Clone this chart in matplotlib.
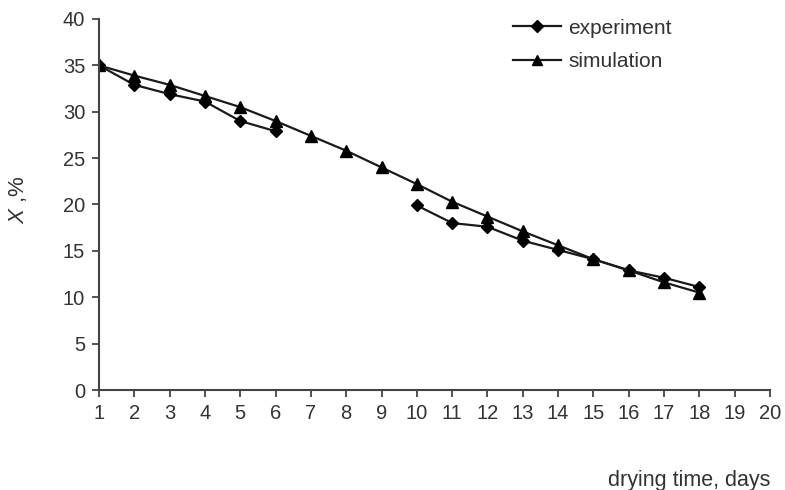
import numpy as np
import matplotlib
matplotlib.use("Agg")
import matplotlib.pyplot as plt

plt.rcParams['font.family'] = ['Liberation Sans', 'DejaVu Sans']
plt.rcParams['mathtext.fontset'] = 'custom'
plt.rcParams['mathtext.it'] = 'Liberation Sans:italic'
plt.rcParams['mathtext.rm'] = 'Liberation Sans'

days = list(range(1, 19))
experiment = [35.0, 32.9, 31.9, 31.1, 29.0, 27.9, np.nan, np.nan, np.nan,
              19.9, 18.0, 17.6, 16.1, 15.1, 14.1, 12.9, 12.1, 11.1]
simulation = [35.0, 33.9, 32.9, 31.7, 30.5, 29.0, 27.4, 25.8, 24.0,
              22.2, 20.3, 18.7, 17.1, 15.6, 14.1, 12.9, 11.6, 10.5]
xticks = list(range(1, 21))
yticks = list(range(0, 41, 5))

text_color = '#333333'
fig = plt.figure(figsize=(7.85, 4.9), dpi=100)
ax = fig.add_axes([99/785, 1-390/490, (770-99)/785, (390-19)/490])

ax.plot(days, experiment, color='#1a1a1a', lw=1.6, marker='D', ms=6.5,
        mfc='black', mec='black', label='experiment')
ax.plot(days, simulation, color='#1a1a1a', lw=1.6, marker='^', ms=8,
        mfc='black', mec='black', label='simulation')

ax.set_xlim(1, 20)
ax.set_ylim(0, 40)
ax.set_xticks(xticks)
ax.set_yticks(yticks)
for s in ['top', 'right']:
    ax.spines[s].set_visible(False)
for s in ['left', 'bottom']:
    ax.spines[s].set_color('#444444')
    ax.spines[s].set_linewidth(1.5)
ax.tick_params(direction='out', length=5, width=1.3, color='#444444',
               labelsize=14.5, labelcolor=text_color, pad=5)

fig.text(18/785, 1-200/490, r'$\it{X}$ ,%', rotation=90, ha='center', va='center',
         fontsize=16, color=text_color)
fig.text(770/785, 1-480/490, 'drying time, days', ha='right', va='center',
         fontsize=15.5, color=text_color)

leg = ax.legend(loc='upper left', bbox_to_anchor=(494/785, 1-0/490),
                bbox_transform=fig.transFigure, frameon=False, fontsize=15,
                handlelength=2.3, handletextpad=0.35, labelspacing=0.7,
                labelcolor=text_color, markerscale=0.9)

fig.savefig('out.png', dpi=100)
